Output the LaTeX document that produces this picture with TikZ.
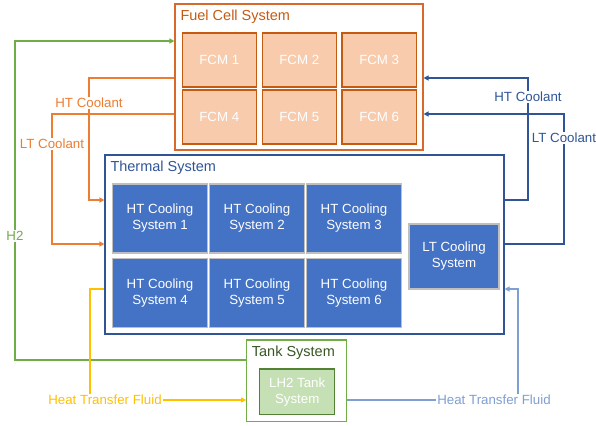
\documentclass[tikz,border=0pt]{standalone}
\usepackage{fontspec}
\setmainfont{Liberation Sans}
\usetikzlibrary{arrows.meta}
\definecolor{fcsdraw}{HTML}{D9692A}
\definecolor{fcstext}{HTML}{C55A11}
\definecolor{fcmfill}{HTML}{F8CBAD}
\definecolor{fcmdraw}{HTML}{C55A11}
\definecolor{tsdraw}{HTML}{2F5597}
\definecolor{htfill}{HTML}{4472C4}
\definecolor{htdraw}{HTML}{BFBFBF}
\definecolor{tkdraw}{HTML}{70AD47}
\definecolor{tktext}{HTML}{385723}
\definecolor{lhfill}{HTML}{C5E0B4}
\definecolor{lhdraw}{HTML}{548235}
\definecolor{cgreen}{HTML}{70AD47}
\definecolor{corange}{HTML}{ED7D31}
\definecolor{cblue}{HTML}{2F5597}
\definecolor{cyellow}{HTML}{FFC000}
\definecolor{clblue}{HTML}{7F9FD2}
\begin{document}
\begin{tikzpicture}[x=1pt,y=-1pt,
  font=\fontsize{13.3}{16}\selectfont,
  box/.style={draw, inner sep=0pt, align=center, line width=1.1pt},
  fcm/.style={box, fill=fcmfill, draw=fcmdraw, text=white, minimum width=74.5pt, minimum height=54pt},
  htc/.style={box, fill=htfill, draw=htdraw, text=white, minimum width=95.5pt, minimum height=69pt},
  ttl/.style={anchor=west, inner sep=0pt, font=\fontsize{14.5}{17}\selectfont},
  lbl/.style={fill=white, inner sep=1pt},
  conn/.style={line width=1.2pt},
  arr/.style={-{Triangle[length=5pt,width=5pt]}}]
\useasboundingbox (0,0) rectangle (596,425);

% Fuel cell system
\node[box, draw=fcsdraw, minimum width=248pt, minimum height=146pt] (fcs) at (299,77) {};
\node[ttl, text=fcstext] (fcst) at (180.3,16.5) {Fuel Cell System};
\node[fcm] (f1) at (219.3,60) {FCM 1};
\node[fcm] (f2) at (299.3,60) {FCM 2};
\node[fcm] (f3) at (379.2,60) {FCM 3};
\node[fcm] (f4) at (219.3,117) {FCM 4};
\node[fcm] (f5) at (299.3,117) {FCM 5};
\node[fcm] (f6) at (379.2,117) {FCM 6};

% Thermal system
\node[box, draw=tsdraw, minimum width=399pt, minimum height=179pt] (ts) at (304.5,244.5) {};
\node[ttl, text=tsdraw] (tst) at (110.3,167.5) {Thermal System};
\node[htc] (h1) at (160,218.5) {HT Cooling\\System 1};
\node[htc] (h2) at (257,218.5) {HT Cooling\\System 2};
\node[htc] (h3) at (354,218.5) {HT Cooling\\System 3};
\node[htc] (h4) at (160,293) {HT Cooling\\System 4};
\node[htc] (h5) at (257,293) {HT Cooling\\System 5};
\node[htc] (h6) at (354,293) {HT Cooling\\System 6};
\node[htc, minimum width=90pt, minimum height=65pt] (lt) at (454,256.5) {LT Cooling\\System};

% Tank system
\node[box, draw=tkdraw, minimum width=100pt, minimum height=81.7pt] (tank) at (296.7,380.8) {};
\node[ttl, text=tktext] (tankt) at (251.7,352.5) {Tank System};
\node[box, fill=lhfill, draw=lhdraw, text=white, minimum width=75pt, minimum height=45.7pt] (lh2) at (297.2,391.8) {LH2 Tank\\System};

% coordinates
\coordinate (g1) at (15,360);
\coordinate (g2) at (15,41);
\coordinate (oh1) at (89,78);
\coordinate (oh2) at (89,200);
\coordinate (ol1) at (52,114);
\coordinate (ol2) at (52,244);
\coordinate (bh1) at (528,200);
\coordinate (bh2) at (528,78);
\coordinate (bl1) at (564,244);
\coordinate (bl2) at (564,114);
\coordinate (y1) at (90,289);
\coordinate (lb1) at (518,289);

% H2
\draw[conn, cgreen, arr] (tank.west |- g1) -- (g1) -- (g2) -- (fcs.west |- g2);
\node[lbl, text=cgreen] (h2l) at (15,236) {H2};

% orange coolant
\draw[conn, corange, arr] (fcs.west |- ol1) -- (ol1) -- (ol2) -- (ts.west |- ol2);
\draw[conn, corange, arr] (fcs.west |- oh1) -- (oh1) -- (oh2) -- (ts.west |- oh2);
\node[lbl, text=corange] (ohl) at (89,103) {HT Coolant};
\node[lbl, text=corange] (oll) at (52,144) {LT Coolant};

% blue coolant
\draw[conn, cblue, arr] (ts.east |- bl1) -- (bl1) -- (bl2) -- (fcs.east |- bl2);
\draw[conn, cblue, arr] (ts.east |- bh1) -- (bh1) -- (bh2) -- (fcs.east |- bh2);
\node[lbl, text=cblue] (bhl) at (528,97) {HT Coolant};
\node[lbl, text=cblue] (bll) at (564,138) {LT Coolant};

% yellow heat transfer fluid
\node[lbl, text=cyellow] (yl) at (105,400) {Heat Transfer Fluid};
\draw[conn, cyellow] (ts.west |- y1) -- (y1) -- (yl.north -| y1);
\draw[conn, cyellow, arr] (yl.east) -- (tank.west |- yl.east);

% light blue heat transfer fluid
\node[lbl, text=clblue] (bfl) at (494,400) {Heat Transfer Fluid};
\draw[conn, clblue] (tank.east |- bfl) -- (bfl.west);
\draw[conn, clblue, arr] (bfl.north -| lb1) -- (lb1) -- (ts.east |- lb1);
\end{tikzpicture}
\end{document}
